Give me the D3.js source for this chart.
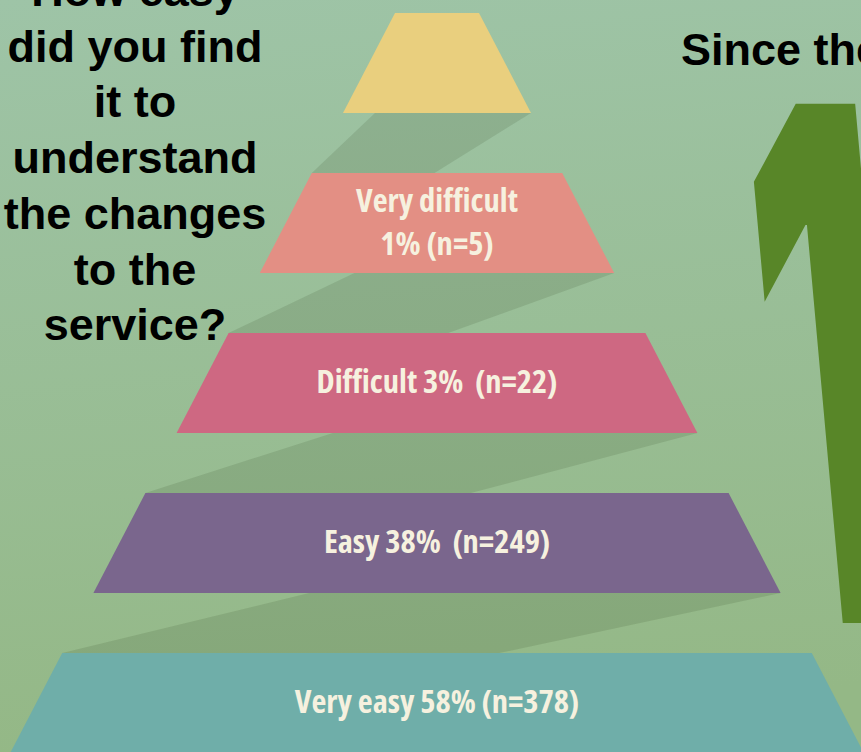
<!DOCTYPE html>
<html>
<head>
<meta charset="utf-8">
<title>How easy did you find it to understand the changes to the service?</title>
<style>
	html, body { margin: 0; padding: 0; overflow: hidden; }
	svg { display: block; }
	.title {
		font-family: "Liberation Sans", Arial, sans-serif;
		font-weight: bold;
		font-size: 45px;
		fill: #000;
	}
	.lbl {
		font-family: "Open Sans", sans-serif;
		font-stretch: condensed;
		font-weight: bold;
		font-size: 32.5px;
		fill: #f6f1df;
		white-space: pre;
	}
</style>
</head>
<body>
<div id="vis"></div>
<script src="https://d3js.org/d3.v7.min.js"></script>
<script>
// data
var levels = ["(top)", "Very difficult", "Difficult", "Easy", "Very easy"];
var percents = [null, 1, 3, 38, 58];
var counts = [null, 5, 22, 249, 378];
var labels = ["", "Very difficult\n1% (n=5)", "Difficult 3%  (n=22)", "Easy 38%  (n=249)", "Very easy 58% (n=378)"];
var tierColors = ["#e9cf7e", "#e38f84", "#ce6882", "#7a668d", "#6faea9"];
var titleLines = ["How easy", "did you find", "it to", "understand", "the changes", "to the", "service?"];
var sideTitle = "Since the";
var bigNumber = "1";

var width = 861, height = 752;

var svg = d3.select("#vis").append("svg")
	.attr("width", width)
	.attr("height", height);

var defs = svg.append("defs");
var bg = defs.append("linearGradient").attr("id", "bg")
	.attr("x1", 0).attr("y1", 0).attr("x2", 0.1).attr("y2", 1);
bg.append("stop").attr("offset", "0%").attr("stop-color", "#9ec4a7");
bg.append("stop").attr("offset", "100%").attr("stop-color", "#94b886");

svg.append("rect").attr("width", width).attr("height", height).attr("fill", "url(#bg)");

// pyramid scales
var cx = 437;
var y = d3.scaleBand()
	.domain(levels)
	.range([13, 753])
	.paddingInner(0.375)
	.paddingOuter(0);
var half = d3.scaleLinear()
	.domain([13, 753])
	.range([42, 42 + 0.52 * 740]);

function tierPts(d) {
	var t = y(d), b = t + y.bandwidth();
	return [[cx - half(t), t], [cx + half(t), t], [cx + half(b), b], [cx - half(b), b]];
}

// shadows between tiers (fraction along the edges where the shadow starts/ends)
var shadowFrac = [[0.17, 0.49], [0.267, 0.527], [0.30, 0.558], [0.314, 0.583]];
var gaps = d3.pairs(levels);
svg.selectAll(".shadow")
	.data(gaps)
  .enter().append("path")
	.attr("class", "shadow")
	.attr("fill", "#1e3210")
	.attr("fill-opacity", 0.12)
	.attr("d", function(p, i) {
		var yb = y(p[0]) + y.bandwidth(), yt = y(p[1]);
		var hb = half(yb), ht = half(yt);
		var pts = [
			[cx - hb + shadowFrac[i][0] * 2 * hb, yb],
			[cx + hb, yb],
			[cx - ht + shadowFrac[i][1] * 2 * ht, yt],
			[cx - ht, yt]
		];
		return d3.line()(pts) + "Z";
	});

// tiers
svg.selectAll(".tier")
	.data(levels)
  .enter().append("path")
	.attr("class", "tier")
	.attr("fill", function(d, i) { return tierColors[i]; })
	.attr("d", function(d) { return d3.line()(tierPts(d)) + "Z"; });

// tier labels
var lineGap = 43;
svg.selectAll(".lbl")
	.data(levels)
  .enter().append("text")
	.attr("class", "lbl")
	.attr("text-anchor", "middle")
	.each(function(d, i) {
		var lines = labels[i] ? labels[i].split("\n") : [];
		var mid = y(d) + y.bandwidth() / 2;
		var sel = d3.select(this);
		lines.forEach(function(s, j) {
			sel.append("tspan")
				.attr("x", cx)
				.attr("y", mid + 10 + (j - (lines.length - 1) / 2) * lineGap)
				.text(s);
		});
	});

// question title
svg.append("text")
	.attr("class", "title")
	.attr("text-anchor", "middle")
	.selectAll("tspan")
	.data(titleLines)
  .enter().append("tspan")
	.attr("x", 135)
	.attr("y", function(d, i) { return 6 + i * 55.7; })
	.text(function(d) { return d; });

svg.append("text")
	.attr("class", "title")
	.attr("x", 681)
	.attr("y", 65)
	.text(sideTitle);

// big number, fitted to its box with canvas ink metrics
var bigFamily = "Inter";
var ctx = document.createElement("canvas").getContext("2d");
ctx.font = "900 200px " + bigFamily;
var m = ctx.measureText(bigNumber);
var inkH = (m.actualBoundingBoxAscent + m.actualBoundingBoxDescent) / 200;
var inkL = -m.actualBoundingBoxLeft / 200;
var fs = 521 / inkH;
var sx = 0.42, k = 0.09;
var baseY = 623 - (m.actualBoundingBoxDescent / 200) * fs;
var X = 751 - sx * inkL * fs + k * 460;
svg.append("text")
	.attr("font-family", bigFamily + ", sans-serif")
	.attr("font-weight", 900)
	.attr("font-size", fs)
	.attr("fill", "#588628")
	.attr("transform", "translate(" + X + "," + baseY + ") skewX(" + (Math.atan(k) * 180 / Math.PI) + ") scale(" + sx + ",1)")
	.text(bigNumber);
</script>
</body>
</html>
